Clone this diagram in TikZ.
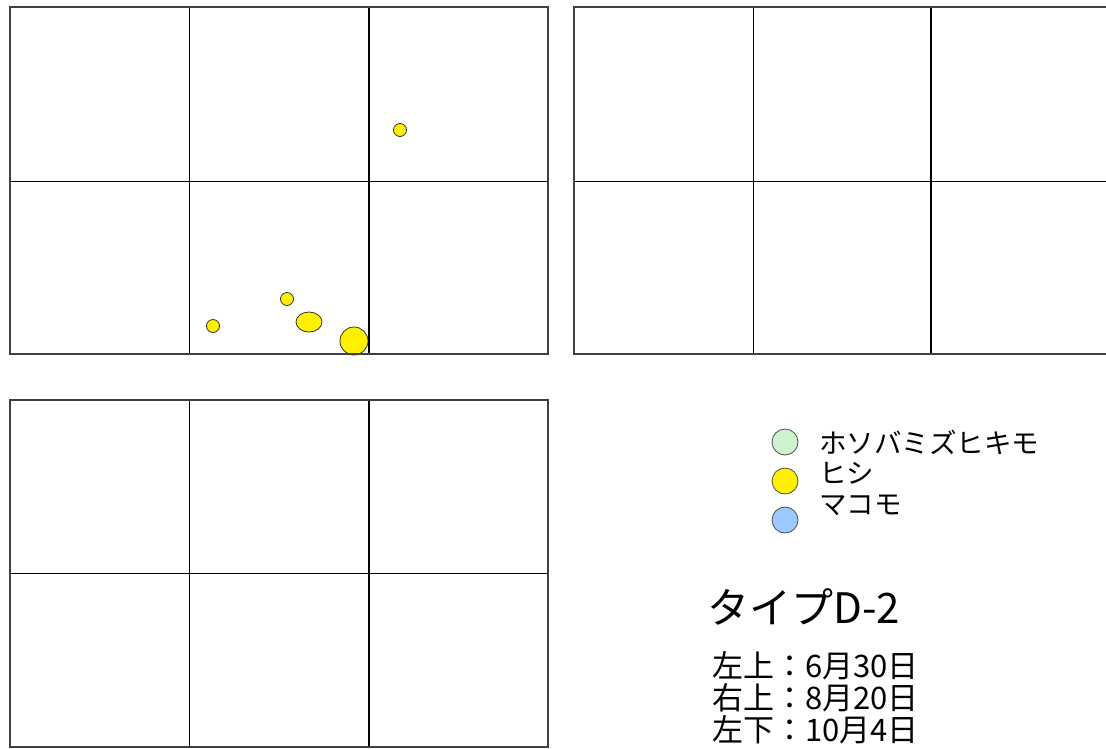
\documentclass[tikz,border=0pt]{standalone}
\usepackage{fontspec}
\newfontfamily\jpfont{Noto Sans CJK JP}
\usetikzlibrary{positioning}
\definecolor{hishiyellow}{RGB}{255,240,0}
\definecolor{hosogreen}{RGB}{204,242,206}
\definecolor{makoblue}{RGB}{153,202,255}

\begin{document}
\begin{tikzpicture}[
    x=1pt, y=-1pt,
    frame/.style={draw=black!75, line width=1.4pt},
    cell/.style={draw=black, line width=1pt},
    mainline/.style={draw=black, line width=2.2pt},
    spot/.style={fill=hishiyellow, draw=black!80, line width=0.8pt},
    key/.style={circle, inner sep=0pt, minimum size=26pt, draw=black!70, line width=0.8pt},
    keytext/.style={font=\jpfont\fontsize{27.5}{29}\selectfont, inner sep=0pt, anchor=west}
  ]
    \useasboundingbox (0,0) rectangle (1106,748);

    % top left: 6/30
    \fill[spot] (400,130) circle (6.5);
    \fill[spot] (213,326) circle (6.5);
    \fill[spot] (287,299) circle (6.5);
    \fill[spot] (309,322) ellipse (13 and 10);
    \fill[spot] (354,341) circle (14);
    \draw[cell] (189,7) -- (189,354);
    \draw[cell] (10,181) -- (548,181);
    \draw[mainline] (369,7) -- (369,354);
    \draw[frame] (10,7) rectangle (548,354);

    % top right: 8/20
    \draw[cell] (753,7) -- (753,354);
    \draw[cell] (574,181) -- (1106,181);
    \draw[mainline] (931,7) -- (931,354);
    \draw[frame] (1106,7) -- (574,7) -- (574,354) -- (1106,354);

    % bottom left: 10/4
    \draw[cell] (189,400) -- (189,747);
    \draw[cell] (10,573) -- (548,573);
    \draw[mainline] (369,400) -- (369,747);
    \draw[frame] (10,400) rectangle (548,747);

    % legend
    \node[key, fill=hosogreen] (hoso) at (785,442) {};
    \node[key, fill=hishiyellow] (hishi) at (785,481) {};
    \node[key, fill=makoblue] (mako) at (785,520) {};
    \node[keytext] (hosotext) at (819,442) {ホソバミズヒキモ};
    \node[keytext] (hishitext) at (819,473) {ヒシ};
    \node[keytext] (makotext) at (819,505) {マコモ};

    \node[font=\jpfont\fontsize{42}{46}\selectfont, inner sep=0pt, anchor=west] (title) at (707,607) {タイプD-2};
    \node[font=\jpfont\fontsize{31}{32}\selectfont, inner sep=0pt, anchor=north west, align=left] (dates) at (712,651)
      {左上：6月30日\\右上：8月20日\\左下：10月4日};
  \end{tikzpicture}
\end{document}
